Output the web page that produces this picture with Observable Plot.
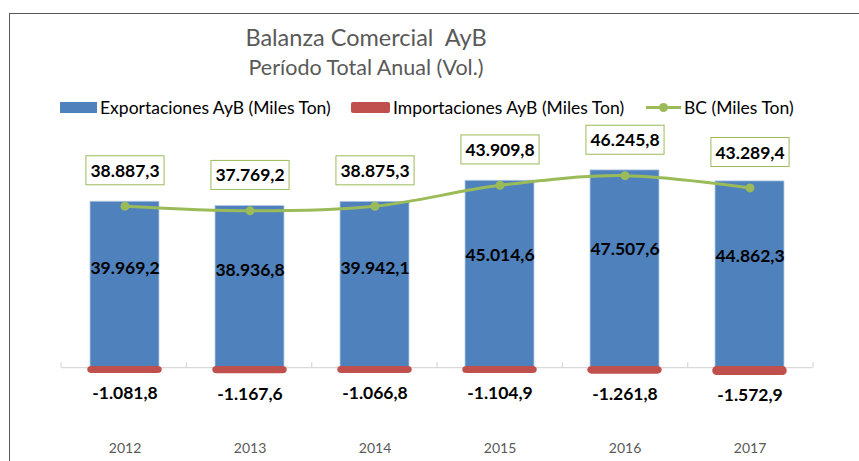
<!DOCTYPE html>
<html>
<head>
<meta charset="utf-8">
<script src="https://cdn.jsdelivr.net/npm/d3@7"></script>
<script src="https://cdn.jsdelivr.net/npm/@observablehq/plot@0.6"></script>
<style>
  body { margin: 0; background: #fff; font-family: Lato, sans-serif; }
  #wrap { position: relative; width: 859px; height: 461px; overflow: hidden; background: #fff; }
  .frame { position: absolute; left: 9px; top: 13px; width: 1000px; height: 1000px; border: 1px solid #595959; box-sizing: border-box; pointer-events: none; z-index: 5; }
  .t { position: absolute; left: 0; width: 732px; text-align: center; white-space: pre; color: #595959; line-height: 1.2; }
  #title { font-size: 23.5px; top: 22.8px; }
  #subtitle { font-size: 21.5px; top: 54.8px; }
  .leg { position: absolute; top: 97px; font-size: 17.5px; line-height: 1.2; color: #000; white-space: pre; display: flex; align-items: center; }
  .sw { display: inline-block; height: 11px; margin-right: 3px; }
  #chart { position: absolute; left: 0; top: 118px; }
  #chart svg { background: transparent !important; }
</style>
</head>
<body>
<div id="wrap">
  <div class="t" id="title"></div>
  <div class="t" id="subtitle"></div>
  <div class="leg" id="leg0" style="left:60px"><span class="sw" style="width:37px;background:#4F81BD"></span><span class="lt"></span></div>
  <div class="leg" id="leg1" style="left:351px"><span class="sw" style="width:39px;background:#C0504D;border-radius:2px"></span><span class="lt"></span></div>
  <div class="leg" id="leg2" style="left:646px"><svg width="35" height="11" style="margin-right:3px"><line x1="0" x2="35" y1="5.5" y2="5.5" stroke="#9BBB59" stroke-width="3"/><circle cx="17.5" cy="5.5" r="4.5" fill="#9BBB59"/></svg><span class="lt"></span></div>
  <div id="chart"></div>
  <div class="frame"></div>
</div>
<script>
const years = ["2012", "2013", "2014", "2015", "2016", "2017"];
const exportaciones = [39969.2, 38936.8, 39942.1, 45014.6, 47507.6, 44862.3];
const importaciones = [-1081.8, -1167.6, -1066.8, -1104.9, -1261.8, -1572.9];
const balanza = [38887.3, 37769.2, 38875.3, 43909.8, 46245.8, 43289.4];
const titulo = "Balanza Comercial  AyB";
const subtitulo = "Período Total Anual (Vol.)";
const serieNombres = ["Exportaciones AyB (Miles Ton)", "Importaciones AyB (Miles Ton)", "BC (Miles Ton)"];

document.getElementById("title").textContent = titulo;
document.getElementById("subtitle").textContent = subtitulo;
serieNombres.forEach((n, i) => { document.querySelector(`#leg${i} .lt`).textContent = n; });

const rows = years.map((year, i) => ({year, exp: exportaciones[i], imp: importaciones[i], bc: balanza[i]}));
const fmt = d3.formatLocale({decimal: ",", thousands: ".", grouping: [3], currency: ["", ""], minus: "-"}).format(",.1f");

const W = 859, H = 343, mL = 61, mR = 46, mT = 0, mB = 31.5;
const yDomain = [-15000, 60000];

function boundaryTicks(index, scales, values, dimensions) {
  const dims = dimensions || {width: W, marginLeft: mL, marginRight: mR};
  const step = (dims.width - dims.marginLeft - dims.marginRight) / years.length;
  const fallback = mT + (yDomain[1] / (yDomain[1] - yDomain[0])) * (H - mT - mB);
  const y0 = (scales && typeof scales.y === "function") ? scales.y(0) : fallback;
  const g = d3.create("svg:g");
  for (let i = 0; i <= years.length; i++) {
    const x = dims.marginLeft + i * step;
    g.append("line").attr("x1", x).attr("x2", x).attr("y1", y0 - 5).attr("y2", y0)
      .attr("stroke", "#d9d9d9").attr("stroke-width", 1.2);
  }
  return g.node();
}

const svg = Plot.plot({
  width: W, height: H,
  marginLeft: mL, marginRight: mR, marginTop: mT, marginBottom: mB,
  style: {fontFamily: "Lato, sans-serif", background: "transparent", overflow: "visible"},
  x: {type: "band", domain: years, paddingInner: 0.45, paddingOuter: 0.225, axis: null},
  y: {domain: yDomain, axis: null},
  marks: [
    Plot.ruleY([0], {stroke: "#d9d9d9", strokeWidth: 1.2}),
    boundaryTicks,
    Plot.barY(rows, {x: "year", y: "exp", fill: "#4F81BD", stroke: "#B9CDE5", strokeWidth: 0.8}),
    Plot.barY(rows, {x: "year", y: "imp", fill: "#C0504D", stroke: "#C0504D", strokeWidth: 2.5, rx: 3, insetLeft: -1.5, insetRight: -1.5}),
    Plot.line(rows, {x: "year", y: "bc", stroke: "#9BBB59", strokeWidth: 3, curve: "catmull-rom"}),
    Plot.dot(rows, {x: "year", y: "bc", r: 4.5, fill: "#9BBB59"}),
    Plot.text(rows, {x: "year", y: d => d.exp * 0.6, text: d => fmt(d.exp), fontSize: 17.5, fontWeight: "bold", fill: "black"}),
    Plot.text(rows, {x: "year", y: "imp", text: d => fmt(d.imp), dy: 21.5, fontSize: 17.5, fontWeight: "bold", fill: "black"}),
    Plot.text(rows, {x: "year", y: "bc", text: d => fmt(d.bc), dy: -35, fontSize: 17.5, fontWeight: "bold", fill: "black"}),
    Plot.text(years, {x: d => d, text: d => d, frameAnchor: "bottom", lineAnchor: "top", dy: 13, fill: "#595959", fontSize: 14})
  ]
});

document.getElementById("chart").appendChild(svg);

// white boxes with green border behind the BC labels
const bcLabels = new Set(balanza.map(fmt));
Array.from(svg.querySelectorAll("text")).filter(t => bcLabels.has(t.textContent)).forEach(t => {
  const b = t.getBBox();
  const r = document.createElementNS("http://www.w3.org/2000/svg", "rect");
  r.setAttribute("x", b.x - 4.5);
  r.setAttribute("y", b.y - 4);
  r.setAttribute("width", b.width + 9);
  r.setAttribute("height", b.height + 8);
  r.setAttribute("fill", "white");
  r.setAttribute("stroke", "#9BBB59");
  r.setAttribute("stroke-width", "1");
  const tr = t.getAttribute("transform");
  if (tr) r.setAttribute("transform", tr);
  t.parentNode.insertBefore(r, t);
});
</script>
</body>
</html>
